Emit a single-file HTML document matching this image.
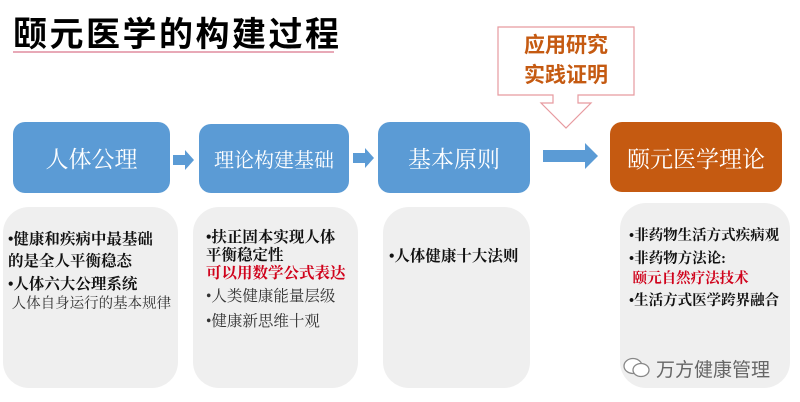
<!DOCTYPE html>
<html><head><meta charset="utf-8"><style>
body{margin:0;width:800px;height:402px;background:#fff;position:relative;overflow:hidden;font-family:"Liberation Sans","Noto Sans CJK SC",sans-serif}
.a{position:absolute}
.blue{background:#5b9bd5;border-radius:12px;color:#fff;display:flex;align-items:center;justify-content:center;font-family:"Liberation Serif","Noto Serif CJK SC",serif}
.gray{background:#efefef;border-radius:26px}
.t{position:absolute;font-family:"Liberation Serif","Noto Serif CJK SC",serif;font-size:15.5px;line-height:20px;color:#111;font-weight:bold;white-space:nowrap}
.n{font-weight:normal;color:#333}
.r{color:#d0021b}
</style></head><body>
<div class="a" style="left:13px;top:7px;font-size:34px;font-weight:bold;color:#000;letter-spacing:2.5px">颐元医学的构建过程</div>
<div class="a" style="left:13px;top:51px;width:321px;height:2px;background:#e8a9b7"></div>

<div class="a blue" style="left:13px;top:122px;width:157px;height:71px;font-size:23px">人体公理</div>
<div class="a blue" style="left:199px;top:124px;width:150px;height:69px;font-size:20px">理论构建基础</div>
<div class="a blue" style="left:378px;top:122px;width:152px;height:71px;font-size:23px">基本原则</div>
<div class="a blue" style="left:610px;top:122px;width:172px;height:70px;font-size:23px;background:#c55a11">颐元医学理论</div>

<svg class="a" style="left:0;top:0" width="800" height="402">
<polygon points="173,155 185,155 185,150 194,160 185,170 185,165 173,165" fill="#5b9bd5"/>
<polygon points="353,153 365,153 365,148 374,158 365,168 365,163 353,163" fill="#5b9bd5"/>
<polygon points="543,150 585,150 585,143 598,156 585,169 585,162 543,162" fill="#5b9bd5"/>
<polygon points="498,27 634,27 634,95 578,95 578,103 591,103 566,128 541,103 553,103 553,95 498,95" fill="#fff" stroke="#e79a9f" stroke-width="1.2"/>
</svg>
<div class="a" style="left:498px;top:31px;width:136px;text-align:center;font-size:21px;font-weight:bold;color:#c55a11;line-height:30px">应用研究<br>实践证明</div>

<div class="a gray" style="left:3px;top:207px;width:175px;height:181px"></div>
<div class="a gray" style="left:193px;top:207px;width:165px;height:181px"></div>
<div class="a gray" style="left:383px;top:207px;width:147px;height:181px"></div>
<div class="a gray" style="left:620px;top:203px;width:170px;height:185px"></div>

<div class="t" style="left:8px;top:229px;line-height:22px">•健康和疾病中最基础<br>的是全人平衡稳态</div>
<div class="t" style="left:8px;top:275px;line-height:19px">•人体六大公理系统<br><span class="n" style="font-size:14.5px">&nbsp;人体自身运行的基本规律</span></div>

<div class="t" style="left:206px;top:229px;line-height:18px">•扶正固本实现人体<br>平衡稳定性<br><span class="r">可以用数学公式表达</span></div>
<div class="t n" style="left:206px;top:287px;font-size:15.5px">•人类健康能量层级</div>
<div class="t n" style="left:206px;top:312px;font-size:15.5px">•健康新思维十观</div>

<div class="t" style="left:389px;top:247px">•人体健康十大法则</div>

<div class="t" style="left:629px;top:226px;font-size:14.5px">•非药物生活方式疾病观</div>
<div class="t" style="left:629px;top:249px;font-size:14.5px;line-height:20px">•非药物方法论:<br><span class="r">&nbsp;颐元自然疗法技术</span></div>
<div class="t" style="left:629px;top:291px;font-size:14.5px">•生活方式医学跨界融合</div>

<div class="a" style="left:622px;top:356px;width:28px;height:22px">
<svg width="30" height="24"><ellipse cx="11" cy="10" rx="9" ry="7.5" fill="#fff" stroke="#888" stroke-width="1.3"/><ellipse cx="19" cy="14" rx="8" ry="6.5" fill="#fff" stroke="#888" stroke-width="1.3"/></svg></div>
<div class="a" style="left:656px;top:355px;font-size:19px;color:#666">万方健康管理</div>
</body></html>
